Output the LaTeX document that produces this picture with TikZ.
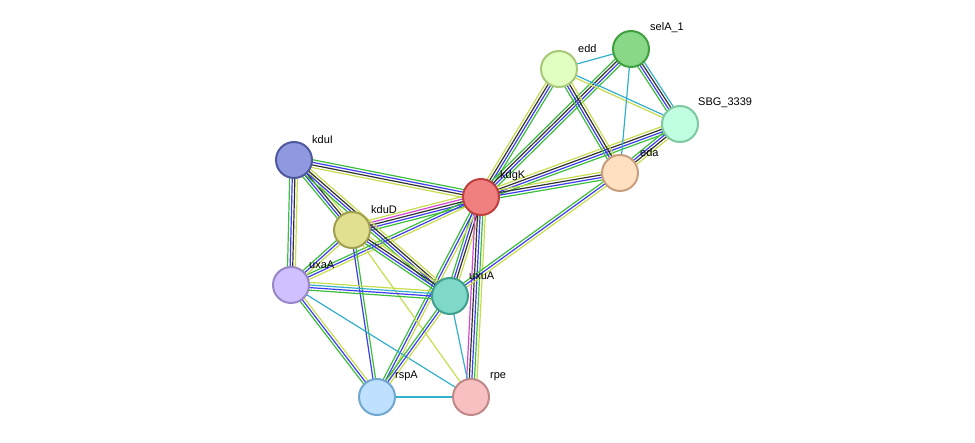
\documentclass[tikz,border=0pt]{standalone}
\usepackage{fontspec}
\setmainfont{Liberation Sans}
\usetikzlibrary{calc,backgrounds}
\definecolor{cg}{RGB}{60,190,60}
\definecolor{cb}{RGB}{60,60,240}
\definecolor{ck}{RGB}{50,50,50}
\definecolor{cy}{RGB}{200,220,80}
\definecolor{cc}{RGB}{50,175,205}
\definecolor{cmg}{RGB}{210,70,210}
\tikzset{prot/.style={circle,minimum size=36pt,inner sep=0pt,line width=2pt},
 lab/.style={font=\fontsize{11}{11}\selectfont,anchor=south west,inner sep=0pt}}
\newcommand\edg[4]{\foreach \c [count=\i] in {#4}{\pgfmathsetmacro\o{(\i-(#3+1)/2)*2.6}
 \draw[draw=\c,line width=1.2pt] ($(#1)!\o pt!90:(#2)$) -- ($(#2)!\o pt!-90:(#1)$);}}
\begin{document}
\begin{tikzpicture}[x=1pt,y=-1pt]
\useasboundingbox (0,0) rectangle (975,443);
\node[prot,fill={rgb,255:red,224;green,255;blue,192},draw={rgb,255:red,168;green,200;blue,120}] (edd) at (559,69) {};
\node[prot,fill={rgb,255:red,136;green,216;blue,136},draw={rgb,255:red,64;green,160;blue,64}] (sel) at (631,49) {};
\node[prot,fill={rgb,255:red,192;green,255;blue,224},draw={rgb,255:red,128;green,200;blue,160}] (sbg) at (680,124) {};
\node[prot,fill={rgb,255:red,255;green,224;blue,192},draw={rgb,255:red,200;green,160;blue,128}] (eda) at (620,173) {};
\node[prot,fill={rgb,255:red,240;green,128;blue,128},draw={rgb,255:red,192;green,64;blue,64}] (kdgK) at (481,197) {};
\node[prot,fill={rgb,255:red,144;green,152;blue,224},draw={rgb,255:red,80;green,88;blue,160}] (kduI) at (294,160) {};
\node[prot,fill={rgb,255:red,224;green,224;blue,144},draw={rgb,255:red,160;green,160;blue,80}] (kduD) at (352,230) {};
\node[prot,fill={rgb,255:red,208;green,192;blue,255},draw={rgb,255:red,152;green,136;blue,200}] (uxaA) at (291,285) {};
\node[prot,fill={rgb,255:red,128;green,216;blue,200},draw={rgb,255:red,64;green,160;blue,144}] (uxuA) at (450,296) {};
\node[prot,fill={rgb,255:red,192;green,224;blue,255},draw={rgb,255:red,112;green,168;blue,208}] (rspA) at (377,397) {};
\node[prot,fill={rgb,255:red,248;green,192;blue,192},draw={rgb,255:red,192;green,136;blue,136}] (rpe) at (471,397) {};
\node[lab] (l1) at (578,53) {edd};
\node[lab] (l2) at (650,33) {selA\_1};
\node[lab] (l3) at (698,108) {SBG\_3339};
\node[lab] (l4) at (640,157) {eda};
\node[lab] (l5) at (500,181) {kdgK};
\node[lab] (l6) at (312,144) {kduI};
\node[lab] (l7) at (371,214) {kduD};
\node[lab] (l8) at (309,269) {uxaA};
\node[lab] (l9) at (469,280) {uxuA};
\node[lab] (l10) at (395,381) {rspA};
\node[lab] (l11) at (490,381) {rpe};
\begin{pgfonlayer}{background}
\edg{kdgK}{edd}{4}{cg,cb,ck,cy}
\edg{kdgK}{sel}{4}{cg,cb,ck,cg}
\edg{kdgK}{sbg}{4}{cg,cb,ck,cy}
\edg{kdgK}{eda}{4}{cg,cb,ck,cy}
\edg{kdgK}{kduI}{4}{cg,cb,ck,cy}
\edg{kdgK}{kduD}{5}{cy,cmg,ck,cb,cg}
\edg{kdgK}{uxaA}{3}{cg,cb,cy}
\edg{kdgK}{uxuA}{4}{cg,cb,ck,cy}
\edg{kdgK}{rspA}{3}{cg,cb,cy}
\edg{kdgK}{rpe}{5}{cmg,ck,cb,cg,cy}
\edg{edd}{sel}{1}{cc}
\edg{edd}{sbg}{2}{cy,cc}
\edg{edd}{eda}{4}{cg,cb,ck,cy}
\edg{sel}{sbg}{4}{cg,cb,ck,cc}
\edg{sel}{eda}{1}{cc}
\edg{sbg}{eda}{4}{cg,cb,ck,cy}
\edg{eda}{uxuA}{3}{cg,cb,cy}
\edg{kduI}{kduD}{4}{cg,cb,ck,cy}
\edg{kduI}{uxaA}{4}{cg,cb,ck,cy}
\edg{kduI}{uxuA}{4}{cg,cb,ck,cy}
\edg{kduD}{uxaA}{3}{cg,cb,cy}
\edg{kduD}{uxuA}{4}{cg,cb,ck,cy}
\edg{kduD}{rspA}{2}{cb,cg}
\edg{kduD}{rpe}{1}{cy}
\edg{uxaA}{uxuA}{4}{cg,cb,cc,cy}
\edg{uxaA}{rspA}{3}{cg,cb,cy}
\edg{uxaA}{rpe}{1}{cc}
\edg{uxuA}{rspA}{3}{cg,cb,cy}
\edg{uxuA}{rpe}{1}{cc}
\edg{rspA}{rpe}{1}{cc}
\end{pgfonlayer}
\end{tikzpicture}
\end{document}
